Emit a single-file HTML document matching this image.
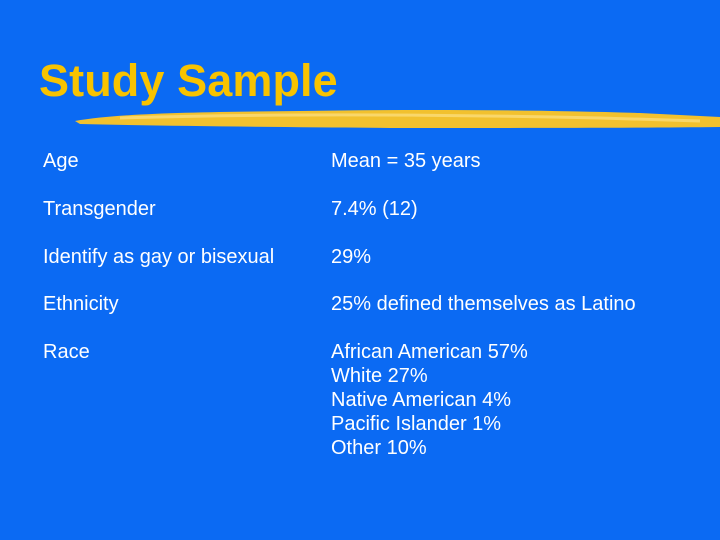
<!DOCTYPE html>
<html><head><meta charset="utf-8"><style>
body{margin:0;width:720px;height:540px;background:#0b6af3;overflow:hidden;position:relative;font-family:"Liberation Sans",sans-serif;}
.t{position:absolute;color:#fff;font-size:20px;line-height:24px;white-space:nowrap}
h1{position:absolute;left:39px;top:56px;margin:0;font-size:45px;font-weight:bold;color:#f8c300;line-height:50px;letter-spacing:0.1px}
</style></head><body>
<h1>Study Sample</h1>
<svg style="position:absolute;left:0;top:0" width="720" height="540">
<path d="M75 121 C120 113 200 112 300 111 C420 109 540 110 640 113 L720 117 L720 127 C640 128 520 128 400 128 C280 127 160 126 80 124 Z" fill="#f2c12e"/>
<path d="M120 118 C250 114 420 114 600 118 L700 121" stroke="#f9d76a" stroke-width="3" fill="none"/>
</svg>
<div class="t" style="left:43px;top:149px">Age</div>
<div class="t" style="left:331px;top:149px">Mean = 35 years</div>
<div class="t" style="left:43px;top:197px">Transgender</div>
<div class="t" style="left:331px;top:197px">7.4% (12)</div>
<div class="t" style="left:43px;top:245px">Identify as gay or bisexual</div>
<div class="t" style="left:331px;top:245px">29%</div>
<div class="t" style="left:43px;top:292px">Ethnicity</div>
<div class="t" style="left:331px;top:292px">25% defined themselves as Latino</div>
<div class="t" style="left:43px;top:340px">Race</div>
<div class="t" style="left:331px;top:340px">African American 57%<br>White 27%<br>Native American 4%<br>Pacific Islander 1%<br>Other 10%</div>
</body></html>
